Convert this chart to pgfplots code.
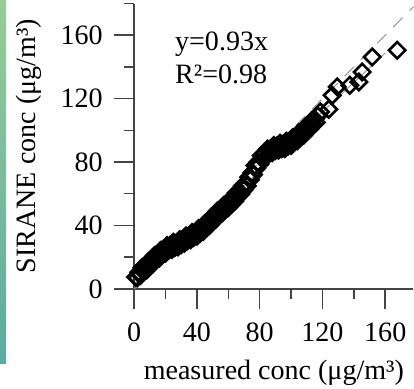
\documentclass[border=0pt]{standalone}
\usepackage{pgfplots}
\pgfplotsset{compat=1.18}
\usepackage{fontspec}
\setmainfont{Liberation Serif}
\definecolor{axisgray}{HTML}{444444}
\definecolor{linegray}{HTML}{8C8C8C}
\definecolor{stripTop}{RGB}{150,205,150}
\definecolor{stripBot}{RGB}{90,172,160}
\pgfplotstableread{
x y
1 7.5
2 7.0
3 10.5
4 8.5
5 13.4
6 10.8
7 14.1
8 12
9 17
10 14.5
11 18
12 16
13 20.9
14 18.3
15 21.6
16 19.5
17 24.3
18 21.7
19 25
20 22.6
21 27.3
22 24.4
23 27.5
24 24.9
25 29.3
26 26.1
27 29
28 26.5
29 31
30 28
31 31.1
32 28.8
33 33.4
34 30.5
35 33.5
36 31
37 35.5
38 32.5
39 35.6
40 33.3
41 37.9
42 35
43 38.4
44 36.3
45 41.1
46 38.5
47 42
48 40
49 45
50 42.5
51 46
52 44
53 49
54 46.5
55 49.9
56 47.8
57 52.6
58 50
59 53.4
60 51.3
61 56.1
62 53.5
63 57.1
64 55.3
65 60.4
66 58
67 61.6
68 59.8
69 64.9
70 62.5
71 66.5
72 65
73 70.5
74 68.8
75 73.2
76 72
77 77.8
78 76
79 80
80 78.5
81 84
82 81.7
83 85.3
84 83.5
85 88.1
86 85.3
87 88.4
88 86
89 90.4
90 87.3
91 90.1
92 87.5
93 91.8
94 88.5
95 91.3
96 88.5
97 93
98 90
99 93
100 90.5
101 95.3
102 92.5
103 95.8
104 93.5
105 98.4
106 95.8
107 99.1
108 97
109 102
110 99.5
111 103
112 101
113 106
114 103.5
115 107
116 105
117 109
118.7 111.6
124 113.3
126.2 122.1
129.4 127.4
137.4 128.4
143.2 130.5
145.3 136.8
151.7 146.3
167.6 150.5
}\qqdata
\pgfplotstableread{
x y
0 0
178 178
}\identity
\pgfplotstableread{
x y
0 0
160 148.8
}\fitline
\begin{document}
\fontsize{28}{33}\selectfont
\begin{tikzpicture}[x=1pt,y=1pt]
\useasboundingbox (-134,-100) rectangle (279.5,288.5);
\shade[top color=stripTop, bottom color=stripBot] (-134,-75) rectangle (-128,288.5);
\begin{axis}[
  at={(0,0)}, anchor=south west,
  scale only axis, width=279pt, height=285pt,
  xmin=0, xmax=178, ymin=0, ymax=180,
  axis lines*=left,
  axis line style={draw=axisgray, line width=1.5pt},
  every tick/.style={draw=axisgray, line width=1.5pt},
  tick align=outside,
  major tick length=20pt, minor tick length=10pt,
  xtick={0,40,...,160}, ytick={0,40,...,160},
  minor xtick={20,60,100,140},
  minor ytick={20,60,100,140,180},
  /pgf/number format/assume math mode=true,
  ticklabel style={font=\fontsize{28}{33}\selectfont},
  xticklabel style={yshift=-4pt},
  yticklabel style={xshift=-2pt},
  xlabel={measured conc (μg/m³)},
  xlabel style={yshift=0pt},
  ylabel={SIRANE conc (μg/m³)},
  clip=false,
]
\addplot[linegray, line width=0.9pt, dash pattern=on 13pt off 10pt] table {\identity};
\addplot[linegray, line width=0.8pt] table {\fitline};
\addplot[only marks, mark=square, mark size=5.8pt,
  mark options={rotate=45, line width=2.6pt, draw=black, solid}] table {\qqdata};
\node[anchor=north west, align=left, inner sep=0pt, font=\fontsize{28}{33}\selectfont]
  at (axis cs:26,162) {y=0.93x\\R²=0.98};
\end{axis}
\end{tikzpicture}
\end{document}
